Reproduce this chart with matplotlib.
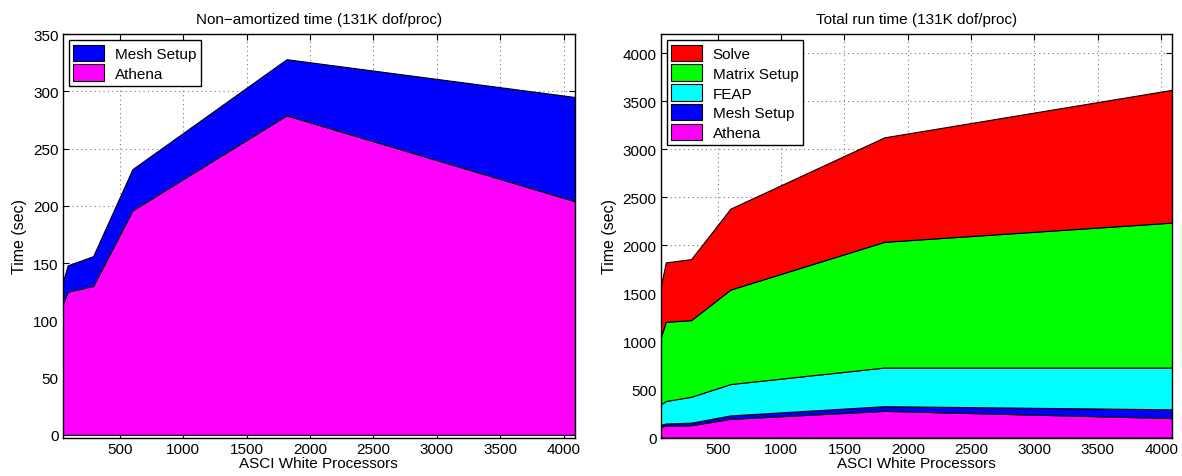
import numpy as np
import matplotlib
matplotlib.use("Agg")
import matplotlib.pyplot as plt

plt.rcParams['font.family'] = ['Liberation Sans', 'DejaVu Sans']

# Data (ASCI White processor counts, seconds)
procs = [50, 90, 290, 600, 1815, 4088]
athena = [114, 125, 130, 196, 279, 204]
mesh_setup = [19, 23, 26, 36, 49, 91]
feap = [214, 234, 270, 326, 402, 435]
matrix_setup = [697, 824, 797, 983, 1308, 1508]
solve = [528, 618, 635, 842, 1087, 1382]

colors = {"Athena": "#ff00ff", "Mesh Setup": "#0000ff", "FEAP": "#00ffff",
          "Matrix Setup": "#00ff00", "Solve": "#ff0000"}

fig = plt.figure(figsize=(11.82, 4.77), dpi=100)
ax1 = fig.add_axes([0.053, 0.0803, 0.4334, 0.8463])
ax2 = fig.add_axes([0.559, 0.0803, 0.4328, 0.8463])


def style(ax):
    ax.set_axisbelow(True)
    ax.grid(True, linestyle=(0, (1, 3)), color="#777777", linewidth=0.8)
    ax.tick_params(direction="in", top=True, right=True, labelsize=11,
                   length=4, width=0.8, pad=3)
    for s in ax.spines.values():
        s.set_linewidth(1.0)
    ax.set_xlim(procs[0], procs[-1])
    ax.set_xticks(np.arange(500, 4001, 500))
    ax.set_xlabel("ASCI White Processors", fontsize=11, labelpad=0)
    ax.set_ylabel("Time (sec)", fontsize=11.5, labelpad=4)


def add_legend(ax):
    h, l = ax.get_legend_handles_labels()
    leg = ax.legend(h[::-1], l[::-1], loc="upper left", fontsize=11,
                    fancybox=False, edgecolor="black", framealpha=1,
                    handlelength=2.0, handleheight=1.3, borderaxespad=0.4,
                    labelspacing=0.2, borderpad=0.3, handletextpad=0.7)
    leg.get_frame().set_linewidth(1.0)


# Left: non-amortized time
names1 = ["Athena", "Mesh Setup"]
ax1.stackplot(procs, athena, mesh_setup,
              colors=[colors[n] for n in names1],
              edgecolor="black", linewidth=0.8, labels=names1)
style(ax1)
ax1.set_ylim(-2.5, 350)
ax1.set_yticks(np.arange(0, 351, 50))
ax1.set_title("Non\u2212amortized time (131K dof/proc)", fontsize=11, pad=8)
add_legend(ax1)

# Right: total run time
names2 = ["Athena", "Mesh Setup", "FEAP", "Matrix Setup", "Solve"]
ax2.stackplot(procs, athena, mesh_setup, feap, matrix_setup, solve,
              colors=[colors[n] for n in names2],
              edgecolor="black", linewidth=0.8, labels=names2)
style(ax2)
ax2.set_ylim(0, 4200)
ax2.set_yticks(np.arange(0, 4001, 500))
ax2.set_title("Total run time (131K dof/proc)", fontsize=11, pad=8)
add_legend(ax2)

plt.savefig("out.png", dpi=100)
